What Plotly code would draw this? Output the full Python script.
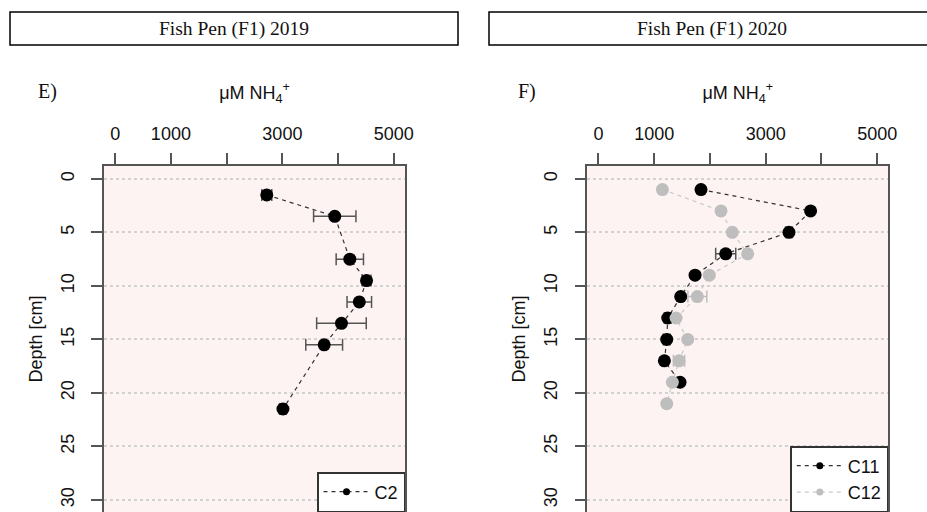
import plotly.graph_objects as go

# ---- data ----
depth_c2 = [1.5, 3.5, 7.5, 9.5, 11.5, 13.5, 15.5, 21.5]
nh4_c2 = [2720, 3940, 4210, 4510, 4380, 4060, 3750, 3010]
err_c2 = [90, 380, 245, 80, 220, 445, 330, 60]

depth_c11 = [1, 3, 5, 7, 9, 11, 13, 15, 17, 19]
nh4_c11 = [1840, 3806, 3418, 2283, 1733, 1476, 1243, 1225, 1183, 1464]
err_c11 = [0, 0, 60, 180, 0, 0, 60, 60, 0, 0]

depth_c12 = [1, 3, 5, 7, 9, 11, 13, 15, 17, 19, 21]
nh4_c12 = [1147, 2199, 2401, 2677, 1989, 1774, 1392, 1602, 1446, 1326, 1225]
err_c12 = [0, 0, 0, 0, 0, 170, 0, 0, 100, 0, 0]

x_labelled_ticks = [0, 1000, 3000, 5000]
x_minor_step = 1000
y_ticks = [0, 5, 10, 15, 20, 25, 30]
panel_titles = ["Fish Pen (F1) 2019", "Fish Pen (F1) 2020"]
panel_labels = ["E)", "F)"]

W, H = 927, 512
SANS = "Liberation Sans, Arial, sans-serif"
SERIF = "Liberation Serif, Times New Roman, serif"
BG = "#FDF3F3"
AX = "#555555"


def px(v):
    return v / W


def py(v):
    return 1 - v / H


fig = go.Figure()

dash = "4px,4px"


def series(x, y, err, col, lcol, ecol, xa, ya):
    return go.Scatter(
        x=x, y=y, mode="lines+markers",
        line=dict(color=lcol, width=1.2, dash=dash),
        marker=dict(color=col, size=13),
        error_x=dict(type="data", array=err, color=ecol, thickness=1.5, width=6),
        xaxis=xa, yaxis=ya, showlegend=False, hoverinfo="x+y",
    )


fig.add_trace(series(nh4_c2, depth_c2, err_c2, "black", "#333333", "#555555", "x", "y"))
fig.add_trace(series(nh4_c11, depth_c11, err_c11, "black", "#333333", "#555555", "x2", "y2"))
fig.add_trace(series(nh4_c12, depth_c12, err_c12, "#BEBEBE", "#C8C8C8", "#BEBEBE", "x2", "y2"))

# legend entries (small symbols like the R legend)
for name, col, lcol, xa, ya, lg in [
    ("C2", "black", "#333333", "x", "y", "legend"),
    ("C11", "black", "#333333", "x2", "y2", "legend2"),
    ("C12", "#BEBEBE", "#C8C8C8", "x2", "y2", "legend2"),
]:
    fig.add_trace(go.Scatter(
        x=[None], y=[None], mode="lines+markers", name=name,
        line=dict(color=lcol, width=1.2, dash=dash),
        marker=dict(color=col, size=7),
        xaxis=xa, yaxis=ya, legend=lg, showlegend=True,
    ))

ydom = [0, py(166)]
xdoms = [[px(104), px(405)], [px(587.3), px(888.3)]]

common_x = dict(
    range=[-200, 5200], side="top", tickmode="array", tickvals=x_labelled_ticks,
    ticks="outside", ticklen=11, tickwidth=1.5, tickcolor=AX,
    minor=dict(tick0=0, dtick=x_minor_step, ticks="outside", ticklen=11,
               tickwidth=1.5, tickcolor=AX, showgrid=False),
    showgrid=False, zeroline=False, showline=True, linecolor=AX, linewidth=1.5,
    mirror=True, ticklabelstandoff=6, automargin=False,
    tickfont=dict(family=SANS, size=18, color="#111111"),
    title=dict(text="μM NH<sub>4</sub><sup>+</sup>", standoff=20,
               font=dict(family=SANS, size=18, color="#111111")),
)
common_y = dict(
    range=[31.12, -1.2], domain=ydom, tickmode="array", tickvals=y_ticks, tickangle=-90,
    ticks="outside", ticklen=11, tickwidth=1.5, tickcolor=AX,
    showgrid=True, gridcolor="#D2D2D2", griddash="dot", gridwidth=1.5,
    zeroline=False, showline=True, linecolor=AX, linewidth=1.5, mirror=True,
    ticklabelstandoff=10, automargin=False,
    tickfont=dict(family=SANS, size=18, color="#111111"),
    title=dict(text="Depth [cm]", standoff=11,
               font=dict(family=SANS, size=18, color="#111111")),
)

legend_common = dict(
    y=0, yanchor="bottom", xanchor="right", bgcolor="white",
    bordercolor="#333333", borderwidth=1.5, itemwidth=46,
    font=dict(family=SANS, size=18, color="#111111"), tracegroupgap=0,
)

fig.update_layout(
    width=W, height=H, margin=dict(l=0, r=0, t=0, b=0, autoexpand=False),
    paper_bgcolor="white", plot_bgcolor=BG,
    xaxis=dict(domain=xdoms[0], anchor="y", **common_x),
    yaxis=dict(anchor="x", **common_y),
    xaxis2=dict(domain=xdoms[1], anchor="y2", **common_x),
    yaxis2=dict(anchor="x2", **common_y),
    legend=dict(x=px(405), **legend_common),
    legend2=dict(x=px(888.3), **legend_common),
    showlegend=True,
)

# title boxes
boxes = [(10, 458), (489, 935)]
for (bx0, bx1), t in zip(boxes, panel_titles):
    fig.add_shape(type="rect", xref="paper", yref="paper",
                  x0=px(bx0), x1=px(bx1), y0=py(45), y1=py(12),
                  line=dict(color="black", width=1.5), fillcolor="white")
    fig.add_annotation(text=t, xref="paper", yref="paper",
                       x=px((bx0 + bx1) / 2), y=py(28.5), showarrow=False,
                       xanchor="center", yanchor="middle",
                       font=dict(family=SERIF, size=19.5, color="#111111"))

for xx, lab in zip([47.5, 526.7], panel_labels):
    fig.add_annotation(text=lab, xref="paper", yref="paper", x=px(xx), y=py(91),
                       showarrow=False, xanchor="center", yanchor="middle",
                       font=dict(family=SERIF, size=20, color="#111111"))

fig.write_html("out.html")
